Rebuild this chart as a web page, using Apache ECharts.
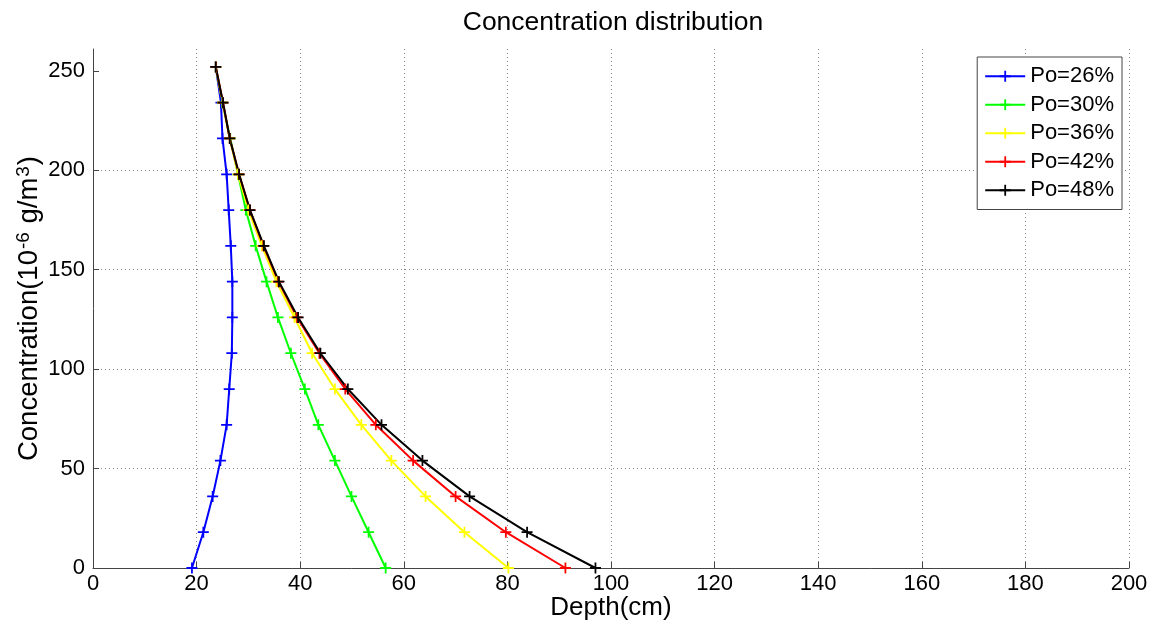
<!DOCTYPE html>
<html>
<head>
<meta charset="utf-8">
<script src="https://cdn.jsdelivr.net/npm/echarts@6/dist/echarts.min.js"></script>
<style>
html,body{margin:0;padding:0;background:#fff;}
#chart{width:1153px;height:623px;}
</style>
</head>
<body>
<div id="chart"></div>
<script>
// Concentration levels (y) shared by all series
const concentration = [0, 18, 36, 54, 72, 90, 108, 126, 144, 162, 180, 198, 216, 234, 252];
// Depth values (x) per series, in the same order as concentration
const depthPo26 = [19.1, 21.3, 23.1, 24.6, 25.8, 26.3, 26.8, 26.9, 26.9, 26.6, 26.2, 25.8, 25.0, 24.7, 23.7];
const depthPo30 = [56.5, 53.2, 49.9, 46.7, 43.5, 40.9, 38.2, 35.7, 33.5, 31.4, 29.5, 28.0, 26.5, 25.0, 23.7];
const depthPo36 = [80.2, 71.7, 64.2, 57.6, 51.8, 46.7, 42.3, 38.9, 35.4, 32.6, 30.0, 28.0, 26.4, 25.0, 23.7];
const depthPo42 = [91.2, 79.7, 70.0, 61.8, 54.6, 48.7, 43.7, 39.4, 35.8, 32.9, 30.3, 28.2, 26.4, 25.1, 23.7];
const depthPo48 = [97.0, 83.8, 72.7, 63.6, 55.7, 49.2, 43.9, 39.6, 35.9, 33.0, 30.3, 28.2, 26.4, 25.1, 23.7];
const seriesNames = ['Po=26%', 'Po=30%', 'Po=36%', 'Po=42%', 'Po=48%'];
const seriesDepths = [depthPo26, depthPo30, depthPo36, depthPo42, depthPo48];
const seriesColors = ['#0000ff', '#00ff00', '#ffff00', '#ff0000', '#000000'];
const yTickLabels = [0, 50, 100, 150, 200, 250];

const plus = 'path://M-0.8,-5L0.8,-5L0.8,-0.8L5,-0.8L5,0.8L0.8,0.8L0.8,5L-0.8,5L-0.8,0.8L-5,0.8L-5,-0.8L-0.8,-0.8Z';
const font = '"Liberation Sans", Arial, sans-serif';

const chart = echarts.init(document.getElementById('chart'));
chart.setOption({
  backgroundColor: '#fff',
  animation: false,
  title: {
    text: 'Concentration distribution',
    left: 608, top: 4, textAlign: 'center',
    textStyle: {fontFamily: font, fontSize: 26.5, fontWeight: 'normal', color: '#000'}
  },
  grid: {left: 93, right: 24, top: 49, bottom: 55, containLabel: false, outerBoundsMode: 'none'},
  legend: {
    orient: 'vertical', right: 31, top: 57,
    padding: [8, 8, 8, 7], itemGap: 6, itemWidth: 40, itemHeight: 14,
    backgroundColor: '#fff', borderColor: '#444', borderWidth: 1,
    textStyle: {fontFamily: font, fontSize: 22, color: '#000', lineHeight: 22.5},
    data: seriesNames
  },
  xAxis: {
    type: 'value', min: 0, max: 200, interval: 20,
    name: 'Depth(cm)', nameLocation: 'middle', nameGap: 27, nameMoveOverlap: false,
    nameTextStyle: {fontFamily: font, fontSize: 26, color: '#000'},
    axisLine: {show: true, onZero: false, lineStyle: {color: '#444', width: 1}},
    axisTick: {show: true, inside: true, length: 6, lineStyle: {color: '#444'}},
    axisLabel: {fontFamily: font, fontSize: 22, color: '#000', margin: 5},
    splitLine: {show: true, lineStyle: {color: '#888', type: [1, 3], width: 1}}
  },
  yAxis: {
    type: 'value', min: 0, max: 261, interval: 50,
    name: 'Concentration(10{sup|-6} g/m{sup|3})', nameLocation: 'middle', nameGap: 48, nameMoveOverlap: false,
    nameTextStyle: {fontFamily: font, fontSize: 27.5, color: '#000',
      rich: {sup: {fontFamily: font, fontSize: 19, color: '#000', padding: [0, 1, 12, 1]}}},
    axisLine: {show: true, onZero: false, lineStyle: {color: '#444', width: 1}},
    axisTick: {show: true, inside: true, length: 6, lineStyle: {color: '#444'}, customValues: yTickLabels},
    axisLabel: {fontFamily: font, fontSize: 22, color: '#000', margin: 8, customValues: yTickLabels},
    splitLine: {show: true, showMaxLine: false, lineStyle: {color: '#888', type: [1, 3], width: 1}}
  },
  series: seriesNames.map((name, i) => ({
    name: name,
    type: 'line',
    data: seriesDepths[i].map((d, j) => [d, concentration[j]]),
    color: seriesColors[i],
    lineStyle: {width: 2, color: seriesColors[i]},
    symbol: plus, symbolSize: 11, showSymbol: true,
    itemStyle: {color: seriesColors[i]},
    emphasis: {disabled: true}
  }))
});
</script>
</body>
</html>
